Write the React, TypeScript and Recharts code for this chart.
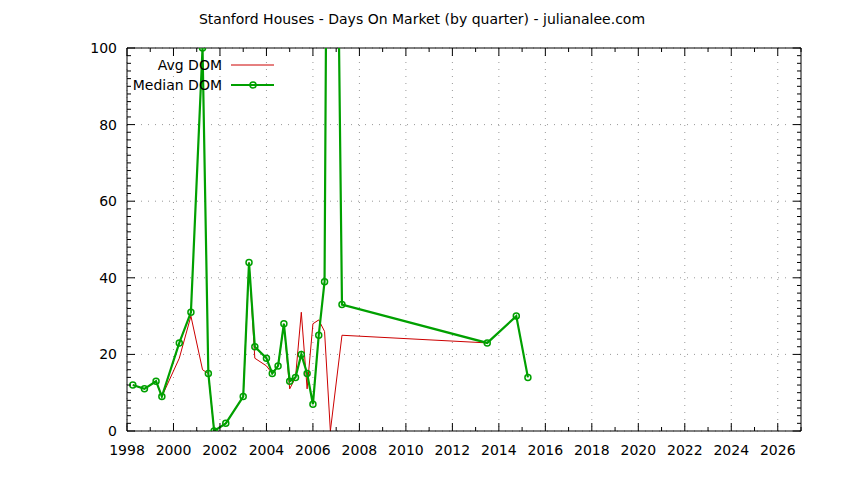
import { LineChart, Line, XAxis, YAxis, CartesianGrid, Legend, ReferenceLine } from "recharts";

// quarter start (decimal year) and days on market
const quarters = [
  1998.25, 1998.75, 1999.25, 1999.5, 2000.25, 2000.75, 2001.25, 2001.5, 2001.75,
  2002.25, 2003.0, 2003.25, 2003.5, 2004.0, 2004.25, 2004.5, 2004.75, 2005.0,
  2005.25, 2005.5, 2005.75, 2006.0, 2006.25, 2006.5, 2006.75, 2007.25, 2013.5,
  2014.75, 2015.25,
];
const medianDom = [
  12, 11, 13, 9, 23, 31, 100, 15, 0, 2, 9, 44, 22, 19, 15, 17, 28, 13, 14, 20, 15,
  7, 25, 39, 300, 33, 23, 30, 14,
];
const avgDom = [
  12, 11, 13, 9, 19, 30, 16, 15, 0, 2, 9, 44, 19, 17, 15, 17, 28, 11, 14, 31, 11,
  28, 29, 26, 0, 25, 23, null, null,
];

const yearLabels = [
  1998, 2000, 2002, 2004, 2006, 2008, 2010, 2012, 2014, 2016, 2018, 2020, 2022,
  2024, 2026,
];
const domLabels = [0, 20, 40, 60, 80, 100];

const yearTicks = Array.from({ length: 30 }, (_, i) => 1998 + i);
const domTicks = Array.from({ length: 51 }, (_, i) => i * 2);

const data = quarters.map((t, i) => ({ t, median: medianDom[i], avg: avgDom[i] }));

const FONT = "DejaVu Sans";
const RED = "#cc0000";
const GREEN = "#00a000";

// chart box
const W = 844;
const H = 480;
const MARGIN = { top: 48, right: 43, bottom: 19, left: 87 };
const PLOT_TOP = MARGIN.top;
const PLOT_RIGHT = W - MARGIN.right;

const tickLen = (major: boolean) => (major ? 8 : 4);

// gnuplot-style inward ticks, mirrored on the top / right border
const BottomTick = ({ x, y, payload }: any) => {
  const major = yearLabels.includes(payload.value);
  const len = tickLen(major);
  return (
    <g>
      <path d={`M${x},${y}V${y - len}M${x},${PLOT_TOP}V${PLOT_TOP + len}`} stroke="#000" strokeWidth={1} fill="none" />
      {major && (
        <text x={x} y={y + 24} textAnchor="middle" fontSize={14} fontFamily={FONT} fill="#000">
          {payload.value}
        </text>
      )}
    </g>
  );
};

const LeftTick = ({ x, y, payload }: any) => {
  const major = domLabels.includes(payload.value);
  const len = tickLen(major);
  return (
    <g>
      <path d={`M${x},${y}H${x + len}M${PLOT_RIGHT},${y}H${PLOT_RIGHT - len}`} stroke="#000" strokeWidth={1} fill="none" />
      {major && (
        <text x={x - 10} y={y + 5} textAnchor="end" fontSize={14} fontFamily={FONT} fill="#000">
          {payload.value}
        </text>
      )}
    </g>
  );
};

const LegendBox = () => (
  <svg width={170} height={44} style={{ display: "block" }}>
    <text x={102} y={18} textAnchor="end" fontSize={14} fontFamily={FONT} fill="#000">
      Avg DOM
    </text>
    <line x1={111} y1={13} x2={154} y2={13} stroke={RED} strokeWidth={1} />
    <text x={102} y={38} textAnchor="end" fontSize={14} fontFamily={FONT} fill="#000">
      Median DOM
    </text>
    <line x1={111} y1={33} x2={154} y2={33} stroke={GREEN} strokeWidth={2} />
    <circle cx={133} cy={33} r={3} fill="none" stroke={GREEN} strokeWidth={1.5} />
  </svg>
);

export default function App() {
  return (
    <div style={{ position: "absolute", top: 0, left: 0, width: W, height: H, background: "#fff" }}>
      <div
        style={{
          position: "absolute",
          top: 10,
          left: 0,
          width: W,
          textAlign: "center",
          fontFamily: FONT,
          fontSize: 14,
          lineHeight: "18px",
          zIndex: 1,
        }}
      >
        Stanford Houses - Days On Market (by quarter) - julianalee.com
      </div>
      <LineChart width={W} height={H} data={data} margin={MARGIN}>
        <CartesianGrid
          stroke="#999"
          strokeDasharray="1 6"
          verticalValues={yearLabels}
          horizontalValues={domLabels}
        />
        <XAxis
          dataKey="t"
          type="number"
          domain={[1998, 2027]}
          ticks={yearTicks}
          interval={0}
          tick={<BottomTick />}
          tickLine={false}
          tickSize={0}
          tickMargin={0}
          height={30}
          stroke="#000"
          allowDataOverflow
        />
        <YAxis
          type="number"
          domain={[0, 100]}
          ticks={domTicks}
          interval={0}
          tick={<LeftTick />}
          tickLine={false}
          tickSize={0}
          tickMargin={0}
          width={40}
          stroke="#000"
          allowDataOverflow
        />
        {/* top and right border */}
        <ReferenceLine y={100} stroke="#000" strokeWidth={1} />
        <ReferenceLine x={2027} stroke="#000" strokeWidth={1} />
        <Legend
          layout="horizontal"
          verticalAlign="middle"
          align="center"
          wrapperStyle={{ top: 52, left: 120, width: 170, height: 44 }}
          content={() => <LegendBox />}
        />
        <Line
          dataKey="avg"
          name="Avg DOM"
          stroke={RED}
          strokeWidth={1}
          dot={false}
          activeDot={false}
          isAnimationActive={false}
        />
        <Line
          dataKey="median"
          name="Median DOM"
          stroke={GREEN}
          strokeWidth={2.2}
          dot={{ r: 3, fill: "none", stroke: GREEN, strokeWidth: 1.5 }}
          activeDot={false}
          isAnimationActive={false}
        />
      </LineChart>
    </div>
  );
}
